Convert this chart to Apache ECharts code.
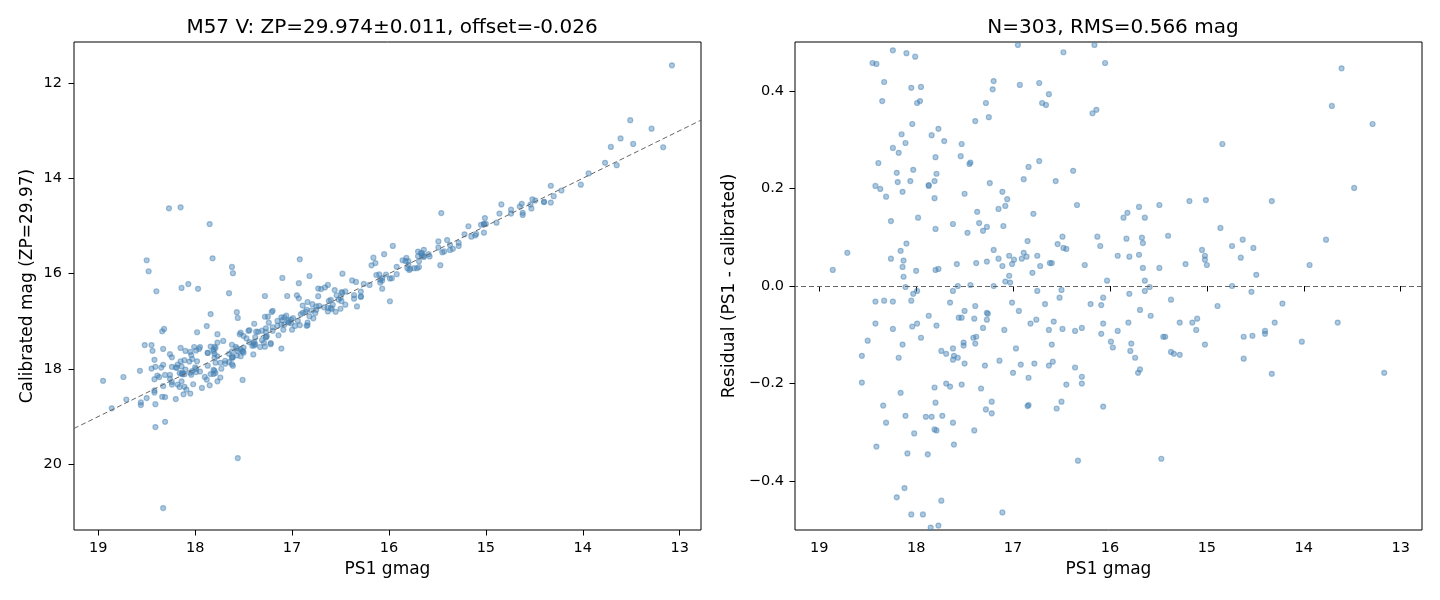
<!DOCTYPE html>
<html>
<head>
<meta charset="utf-8">
<script src="https://cdn.jsdelivr.net/npm/echarts@6/dist/echarts.min.js"></script>
<style>
  html, body { margin: 0; padding: 0; background: #fff; }
  #chart { width: 1440px; height: 600px; }
</style>
</head>
<body>
<div id="chart"></div>
<script>
// stars inside the residual window: [PS1 gmag, residual (PS1 - calibrated)]
const matched = [
  [18.24,0.483],[18.10,0.477],[18.01,0.470],[18.45,0.457],[18.41,0.455],[18.33,0.418],[18.05,0.406],[17.95,0.408],
  [18.35,0.379],[17.99,0.375],[17.96,0.379],[18.04,0.332],[17.77,0.322],[18.15,0.311],[17.84,0.309],[17.71,0.297],
  [18.11,0.293],[18.24,0.283],[18.18,0.273],[17.80,0.264],[18.39,0.252],[18.03,0.238],[18.20,0.232],[17.79,0.230],
  [18.19,0.213],[18.06,0.215],[17.81,0.215],[17.87,0.207],[17.87,0.205],[18.42,0.205],[18.37,0.199],[18.14,0.193],
  [18.31,0.183],[17.81,0.180],[18.26,0.133],[17.98,0.140],[17.62,0.127],[17.80,0.117],[18.10,0.087],[18.71,0.068],
  [18.16,0.072],[18.26,0.056],[18.13,0.052],[18.14,0.039],[18.86,0.033],[18.00,0.031],[17.80,0.033],[17.77,0.035],
  [18.13,0.019],[18.11,-0.002],[17.99,-0.010],
  [18.03,-0.016],[17.62,-0.010],[18.42,-0.032],[18.33,-0.030],[18.24,-0.032],[18.05,-0.030],[17.65,-0.034],[17.87,-0.061],
  [18.42,-0.077],[18.24,-0.088],[18.04,-0.083],[17.99,-0.077],[17.79,-0.081],[17.95,-0.106],[18.50,-0.112],[18.14,-0.120],
  [17.74,-0.133],[17.69,-0.139],[18.56,-0.143],[18.18,-0.147],[18.56,-0.198],[18.16,-0.219],[17.81,-0.208],[17.69,-0.200],
  [17.65,-0.206],[18.34,-0.245],[17.80,-0.239],[18.31,-0.280],[18.11,-0.266],[17.90,-0.268],[17.84,-0.268],[17.73,-0.266],
  [17.81,-0.294],[17.79,-0.296],[18.02,-0.302],[18.41,-0.329],[18.09,-0.343],[17.88,-0.345],[18.12,-0.414],[18.20,-0.433],
  [17.74,-0.440],[18.05,-0.468],[17.93,-0.468],[17.85,-0.495],[17.77,-0.491],
  [16.95,0.494],[16.16,0.494],[16.48,0.479],[16.05,0.457],[17.20,0.420],[17.21,0.403],[16.93,0.412],[16.73,0.416],
  [16.63,0.393],[16.70,0.375],[16.66,0.371],[17.28,0.375],[17.25,0.346],[17.39,0.338],[16.18,0.354],[16.14,0.361],
  [17.53,0.291],[17.54,0.266],[17.44,0.253],[17.45,0.250],[16.84,0.244],[16.73,0.256],[16.38,0.236],[16.89,0.219],
  [16.56,0.215],[17.24,0.211],[17.50,0.189],[17.11,0.193],[17.06,0.178],[17.08,0.164],[17.15,0.158],[16.34,0.166],
  [17.37,0.152],[16.79,0.148],[17.35,0.129],[17.27,0.121],[17.31,0.113],[17.47,0.109],[17.10,0.123],[16.85,0.092],
  [17.20,0.074],[16.49,0.101],[16.54,0.086],[16.48,0.078],[16.45,0.076],[16.13,0.101],[16.10,0.082],[17.58,0.045],
  [17.38,0.047],[17.27,0.050],[17.15,0.056],[17.11,0.041],[17.04,0.062],[16.99,0.054],[17.01,0.045],[16.91,0.056],
  [16.89,0.068],[16.86,0.060],[16.75,0.062],[16.72,0.041],[16.62,0.047],[16.60,0.047],[16.26,0.043],[16.80,0.027],
  [17.04,0.021],[17.08,0.009],[17.03,0.007],[16.03,0.011],[17.57,0.000],[17.44,0.002],[17.20,0.000],[16.75,-0.010],
  [16.50,-0.008],
  [17.50,-0.051],[17.39,-0.041],[17.56,-0.065],[17.53,-0.065],[17.40,-0.067],[17.27,-0.055],[17.26,-0.057],[17.27,-0.069],
  [17.31,-0.086],[17.09,-0.090],[17.01,-0.034],[16.94,-0.051],[16.82,-0.077],[16.76,-0.069],[16.67,-0.037],[16.52,-0.024],
  [16.63,-0.090],[16.58,-0.073],[16.49,-0.088],[16.36,-0.092],[16.29,-0.086],[16.20,-0.037],[16.09,-0.039],[16.07,-0.024],
  [16.07,-0.077],[16.09,-0.098],[17.41,-0.106],[17.38,-0.104],[17.51,-0.116],[17.51,-0.122],[17.39,-0.118],[17.62,-0.128],
  [17.61,-0.143],[17.57,-0.147],[17.62,-0.151],[17.50,-0.159],[17.29,-0.163],[17.14,-0.153],[16.97,-0.128],[16.60,-0.120],
  [17.00,-0.178],[16.92,-0.161],[16.78,-0.159],[16.63,-0.163],[16.59,-0.155],[16.84,-0.188],[16.36,-0.167],[16.29,-0.186],
  [16.29,-0.200],[16.45,-0.202],[17.53,-0.202],[17.33,-0.210],[17.22,-0.237],[17.28,-0.253],[17.22,-0.261],[16.84,-0.244],
  [16.85,-0.246],[16.50,-0.237],[16.55,-0.251],[16.07,-0.247],[17.62,-0.280],[17.40,-0.296],[17.61,-0.325],[16.33,-0.358],
  [17.11,-0.464],
  [14.84,0.291],[15.70,0.162],[15.82,0.150],[15.86,0.140],[15.64,0.140],[15.49,0.166],[15.18,0.174],[15.01,0.176],
  [14.86,0.119],[15.83,0.097],[15.67,0.099],[15.66,0.088],[15.40,0.103],[15.92,0.062],[15.80,0.060],[15.70,0.064],
  [15.66,0.037],[15.49,0.037],[15.22,0.045],[15.05,0.074],[15.02,0.062],[15.02,0.054],[15.00,0.043],[14.74,0.082],
  [14.63,0.095],[14.65,0.058],[14.52,0.078],[14.49,0.023],[15.64,0.011],[15.59,-0.002],[14.74,0.000],
  [15.80,-0.016],[15.64,-0.010],[15.37,-0.028],[14.89,-0.041],[14.54,-0.012],[15.69,-0.049],[15.58,-0.061],[15.81,-0.075],
  [15.92,-0.092],[15.28,-0.075],[15.15,-0.075],[15.10,-0.067],[15.11,-0.090],[15.45,-0.104],[15.43,-0.104],[15.99,-0.114],
  [15.97,-0.126],[15.78,-0.118],[15.79,-0.133],[15.74,-0.147],[15.69,-0.171],[15.71,-0.178],[15.37,-0.135],[15.34,-0.139],
  [15.28,-0.141],[15.02,-0.120],[14.62,-0.104],[14.53,-0.102],[14.62,-0.149],[14.40,-0.092],[14.40,-0.098],[15.47,-0.354],
  [13.61,0.446],[13.71,0.369],[13.29,0.332],[13.48,0.201],[14.33,0.174],[13.77,0.095],[13.94,0.043],
  [14.22,-0.036],[14.30,-0.075],[14.02,-0.114],[13.65,-0.075],[14.33,-0.180],[13.17,-0.178]
]

// stars outside the residual window, only on the left panel: [PS1 gmag, calibrated mag]
const outliers = [
  [18.27,14.63],[18.15,14.61],[17.85,14.96],[18.50,15.72],[18.48,15.95],[17.82,15.68],[17.62,15.86],[17.61,15.99],
  [18.40,16.37],[18.14,16.30],[18.07,16.22],[17.97,16.32],[17.65,16.41],[17.57,16.81],[17.56,16.93],[17.84,16.85],
  [17.88,17.10],[18.34,17.21],[18.32,17.16],[17.98,17.23],[17.77,17.27],[18.52,17.50],[18.45,17.50],[18.44,17.62],
  [18.33,17.58],[18.26,17.69],[18.15,17.56],[18.42,17.81],[18.57,18.04],[18.95,18.25],[18.74,18.17],[18.41,19.22],
  [18.31,19.11],[17.56,19.87],[18.33,20.92],[17.51,18.23],[16.92,15.70],[17.10,16.09],[16.82,16.05],[16.93,16.20],
  [17.28,16.47],[17.05,16.47],[15.96,15.42],[15.99,16.58],[15.46,14.73],[13.08,11.63],[13.51,12.78]
]

const gTicks = [19, 18, 17, 16, 15, 14, 13]
const magTicks = [12, 14, 16, 18, 20]
const resTicks = [-0.4, -0.2, 0, 0.2, 0.4]
const gRange = [12.78, 19.25]
const magRange = [11.14, 21.38]
const resRange = [-0.5, 0.5]

const titleLeft = 'M57 V: ZP=29.974±0.011, offset=-0.026'
const titleRight = 'N=303, RMS=0.566 mag'

// calibrated magnitude = gmag - residual
const calibPts = matched.map(([g, r]) => [g, +(g - r).toFixed(3)]).concat(outliers)

const font = 'DejaVu Sans'
const minus = (s) => String(s).replace('-', '\u2212')
const dotStyle = {
  color: 'rgba(70,130,180,0.55)',
  borderColor: 'rgba(70,130,180,0.6)',
  borderWidth: 1.2,
}
const dashed = { color: '#666', width: 1, type: [5, 3] }
const tickStyle = { show: true, inside: false, length: 5.5, lineStyle: { color: '#000' } }
const labelStyle = { fontFamily: font, fontSize: 14.5, color: '#000' }
const nameStyle = { fontFamily: font, fontSize: 17, color: '#000' }
const titleStyle = { fontFamily: font, fontSize: 20, fontWeight: 'normal', color: '#000' }

const xAxisOf = (idx) => ({
  type: 'value',
  gridIndex: idx,
  min: gRange[0],
  max: gRange[1],
  inverse: true,
  name: 'PS1 gmag',
  nameLocation: 'middle',
  nameGap: 31,
  nameTextStyle: nameStyle,
  axisLine: { show: false },
  splitLine: { show: false },
  axisTick: { ...tickStyle, customValues: gTicks },
  axisLabel: { ...labelStyle, margin: 11, customValues: gTicks },
})

const chart = echarts.init(document.getElementById('chart'))
chart.setOption({
  animation: false,
  backgroundColor: '#fff',
  title: [
    { text: titleLeft, left: 387, top: 13, textAlign: 'center', textStyle: titleStyle },
    { text: titleRight, left: 1108, top: 13, textAlign: 'center', textStyle: titleStyle },
  ],
  grid: [
    { left: 74, top: 42, width: 627, height: 488, show: true, borderColor: '#000', borderWidth: 1 },
    { left: 795, top: 42, width: 627, height: 488, show: true, borderColor: '#000', borderWidth: 1 },
  ],
  xAxis: [xAxisOf(0), xAxisOf(1)],
  yAxis: [
    {
      type: 'value',
      gridIndex: 0,
      min: magRange[0],
      max: magRange[1],
      inverse: true,
      name: 'Calibrated mag (ZP=29.97)',
      nameLocation: 'middle',
      nameGap: 38,
      nameTextStyle: nameStyle,
      axisLine: { show: false },
      splitLine: { show: false },
      axisTick: { ...tickStyle, customValues: magTicks },
      axisLabel: { ...labelStyle, margin: 12, customValues: magTicks },
    },
    {
      type: 'value',
      gridIndex: 1,
      min: resRange[0],
      max: resRange[1],
      name: 'Residual (PS1 - calibrated)',
      nameLocation: 'middle',
      nameGap: 57,
      nameTextStyle: nameStyle,
      axisLine: { show: false },
      splitLine: { show: false },
      axisTick: { ...tickStyle, customValues: resTicks },
      axisLabel: {
        ...labelStyle, margin: 11, customValues: resTicks,
        formatter: (v) => minus(Number(v).toFixed(1)),
      },
    },
  ],
  series: [
    {
      type: 'scatter',
      xAxisIndex: 0,
      yAxisIndex: 0,
      symbolSize: 5,
      itemStyle: dotStyle,
      data: calibPts,
      markLine: {
        silent: true,
        symbol: 'none',
        label: { show: false },
        lineStyle: dashed,
        data: [[{ coord: [gRange[1], gRange[1]] }, { coord: [gRange[0], gRange[0]] }]],
      },
    },
    {
      type: 'scatter',
      xAxisIndex: 1,
      yAxisIndex: 1,
      symbolSize: 5,
      itemStyle: dotStyle,
      data: matched,
      markLine: {
        silent: true,
        symbol: 'none',
        label: { show: false },
        lineStyle: dashed,
        data: [{ yAxis: 0 }],
      },
    },
  ],
})
</script>
</body>
</html>
